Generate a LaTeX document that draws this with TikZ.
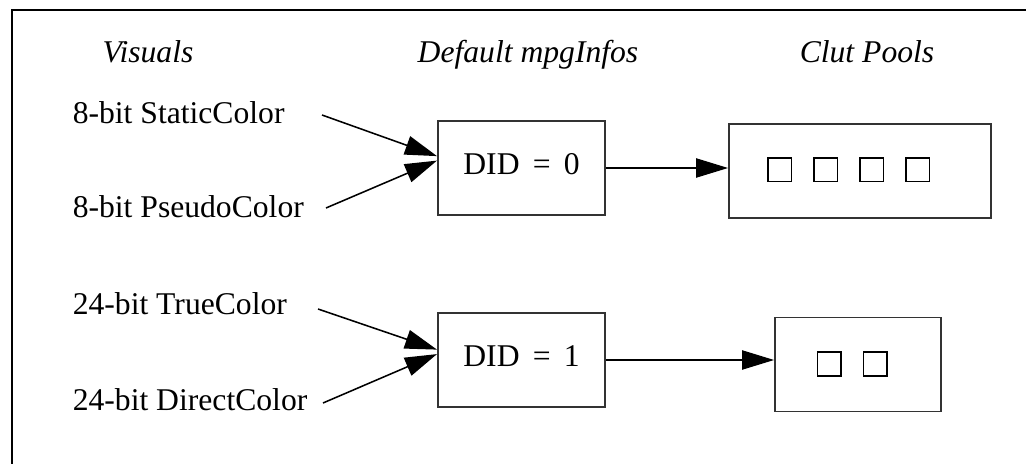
\documentclass[tikz,border=0pt]{standalone}
\usepackage{fontspec}
\setmainfont{Liberation Serif}
\usetikzlibrary{arrows.meta}

\begin{document}
\begin{tikzpicture}[line width=1.1pt,
  vis/.style={anchor=base west,inner sep=0pt,font=\fontsize{22.5pt}{27pt}\selectfont},
  head/.style={anchor=base,inner sep=0pt,font=\fontsize{22.5pt}{27pt}\selectfont\itshape},
  did/.style={shape=rectangle,draw=black!80,line width=1.3pt,minimum width=4.18cm,minimum height=2.35cm,text depth=0.2cm,font=\fontsize{22.5pt}{27pt}\selectfont},
  pool/.style={shape=rectangle,draw=black!80,line width=1.3pt,minimum height=2.35cm},
  clut/.style={shape=rectangle,draw=black,line width=1pt,minimum size=0.59cm,inner sep=0pt},
  arr/.style={-{Triangle[length=0.8cm,width=0.48cm]}}]
\useasboundingbox (0,0) rectangle (25.65,11.6);
\draw[line width=1.4pt] (0.3,-0.2) |- (25.9,11.35);

\node[head] (hvis) at (3.7,10.025) {Visuals};
\node[head] (hinfo) at (13.2,10.025) {Default mpgInfos};
\node[head] (hclut) at (21.675,10.025) {Clut Pools};

\node[vis] (s8) at (1.8,8.5) {8-bit StaticColor};
\node[vis] (p8) at (1.8,6.15) {8-bit PseudoColor};
\node[vis] (t24) at (1.8,3.725) {24-bit TrueColor};
\node[vis] (d24) at (1.8,1.325) {24-bit DirectColor};
\coordinate (s8o) at (8.05,8.725);
\coordinate (p8o) at (8.15,6.4);
\coordinate (t24o) at (7.95,3.875);
\coordinate (d24o) at (8.075,1.525);

\node[did] (did0) at (13.0375,7.4) {DID\, = \,0};
\node[did] (did1) at (13.0375,2.6) {DID\, = \,1};

\node[pool,minimum width=6.55cm] (pool0) at (21.5,7.325) {};
\node[pool,minimum width=4.15cm] (pool1) at (21.45,2.4875) {};
\foreach \i in {0,...,3}
  \node[clut] (q\i) at (19.49+1.15*\i,7.35) {};
\node[clut] (r0) at (20.725,2.5) {};
\node[clut] (r1) at (21.875,2.5) {};

\path [arr] (s8o) edge (did0.172); \path [arr] (p8o) edge (did0.175);
\path [arr] (t24o) edge (did1.173); \path [arr] (d24o) edge (did1.176);
\path [arr] (did0.east) edge (did0.east -| pool0.west);
\path [arr] (did1.east) edge (did1.east -| pool1.west);
\end{tikzpicture}
\end{document}
